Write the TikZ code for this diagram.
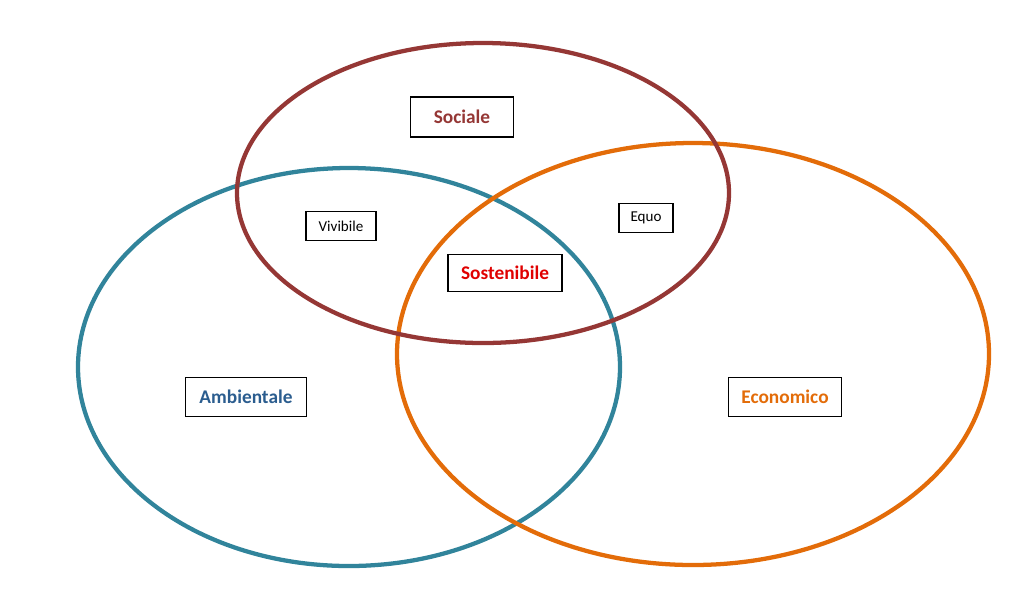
\documentclass[tikz,border=0pt]{standalone}
\usepackage{fontspec}
\setmainfont{Carlito}
\usepackage{xcolor}
\usetikzlibrary{positioning}

\definecolor{socred}{HTML}{953735}
\definecolor{ambteal}{HTML}{31849B}
\definecolor{ecoorange}{HTML}{E36C09}
\definecolor{ambblue}{HTML}{2B5D8F}
\definecolor{sosred}{HTML}{E00000}

\begin{document}
\begin{tikzpicture}[
      x=0.75pt, y=-0.75pt,
      ring/.style={line width=3.2pt},
      label/.style={draw, fill=white, line width=0.9pt, align=center, inner sep=0pt, font=\fontsize{14.5}{16}\selectfont\bfseries},
      small/.style={draw, fill=white, line width=0.9pt, align=center, inner sep=0pt, font=\fontsize{11.3}{13}\selectfont}
    ]
    \useasboundingbox (0,0) rectangle (1009,612);
    % Rings
    \draw[ring, ambteal] (349,367) ellipse (271 and 199);
    \draw[ring, ecoorange] (693,354) ellipse (296 and 211);
    \draw[ring, socred] (483,193) ellipse (246 and 150);

    % Labels
    \node[label, text=socred, minimum width=77pt, minimum height=30pt] (soc) at (462,117) {Sociale};
    \node[small, minimum width=52.5pt, minimum height=22pt] (viv) at (341,226) {Vivibile};
    \node[small, minimum width=40.5pt, minimum height=22pt] (equ) at (646,218) {Equo};
    \node[label, text=sosred, minimum width=85.5pt, minimum height=28pt] (sos) at (505,273) {Sostenibile};
    \node[label, text=ambblue, minimum width=90.5pt, minimum height=29.5pt] (amb) at (246,397) {Ambientale};
    \node[label, text=ecoorange, minimum width=84.5pt, minimum height=29.5pt] (eco) at (785,397) {Economico};
  \end{tikzpicture}
\end{document}
